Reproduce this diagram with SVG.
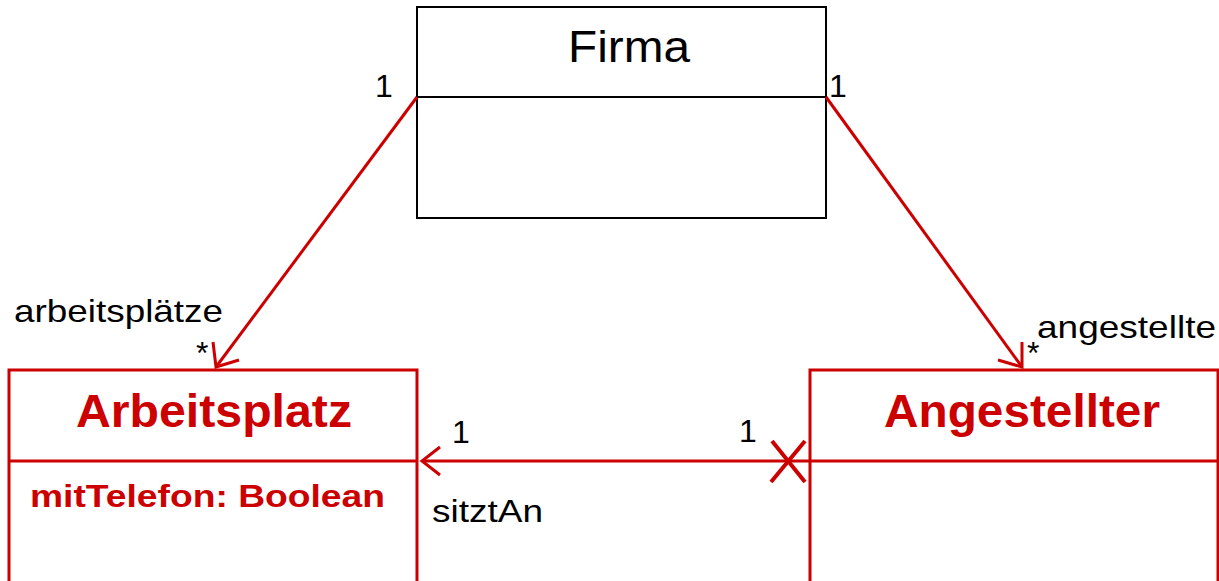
<svg xmlns="http://www.w3.org/2000/svg" width="1219" height="581" viewBox="0 0 1219 581">
<style>
  .box{fill:#fff;stroke:#000;stroke-width:2}
  .rbox{fill:#fff;stroke:#cc0000;stroke-width:3}
  .red{stroke:#cc0000;stroke-width:3;fill:none}
  .cross{stroke:#cc0000;stroke-width:4;fill:none}
  .lbl{font-family:"Liberation Sans",Arial,sans-serif;font-size:32px;fill:#000}
  .title{font-family:"Liberation Sans",Arial,sans-serif;font-size:45px;fill:#000}
  .rtitle{font-family:"Liberation Sans",Arial,sans-serif;font-size:47px;font-weight:bold;fill:#cc0000}
  .attr{font-family:"Liberation Sans",Arial,sans-serif;font-size:32px;font-weight:bold;fill:#cc0000}
</style>
<rect width="1219" height="581" fill="#fff"/>
<g id="firma">
  <rect class="box" x="417" y="7" width="409" height="211"/>
  <line class="box" x1="417" y1="97" x2="826" y2="97"/>
  <text class="title" x="568" y="62" textLength="122" lengthAdjust="spacingAndGlyphs">Firma</text>
</g>
<g id="arbeitsplatz">
  <rect class="rbox" x="9" y="370" width="408" height="220"/>
  <line class="red" x1="9" y1="461" x2="417" y2="461"/>
  <text class="rtitle" x="76" y="427" textLength="276" lengthAdjust="spacingAndGlyphs">Arbeitsplatz</text>
  <text class="attr" x="30" y="507" textLength="355" lengthAdjust="spacingAndGlyphs">mitTelefon: Boolean</text>
</g>
<g id="angestellter">
  <rect class="rbox" x="810" y="370" width="408" height="220"/>
  <line class="red" x1="810" y1="461" x2="1218" y2="461"/>
  <text class="rtitle" x="884" y="427" textLength="276" lengthAdjust="spacingAndGlyphs">Angestellter</text>
</g>
<g id="connectors">
  <line class="red" x1="417" y1="97" x2="216" y2="367"/>
  <polyline class="red" points="213,342 216,367 239,360"/>
  <line class="red" x1="826" y1="97" x2="1022" y2="367"/>
  <polyline class="red" points="998,360 1022,367 1022,342"/>
  <line class="red" x1="422" y1="461" x2="810" y2="461"/>
  <polyline class="red" points="440,447 422,461 440,475"/>
  <line class="cross" x1="772" y1="441" x2="805" y2="482"/>
  <line class="cross" x1="805" y1="441" x2="771" y2="482"/>
</g>
<g id="labels">
  <text class="lbl" x="375" y="97">1</text>
  <text class="lbl" x="829" y="97">1</text>
  <text class="lbl" x="14" y="322" textLength="209" lengthAdjust="spacingAndGlyphs">arbeitsplätze</text>
  <text class="lbl" x="196" y="364">*</text>
  <text class="lbl" x="1037" y="338" textLength="179" lengthAdjust="spacingAndGlyphs">angestellte</text>
  <text class="lbl" x="1027" y="364">*</text>
  <text class="lbl" x="452" y="443">1</text>
  <text class="lbl" x="739" y="442">1</text>
  <text class="lbl" x="432" y="522" textLength="111" lengthAdjust="spacingAndGlyphs">sitztAn</text>
</g>
</svg>
